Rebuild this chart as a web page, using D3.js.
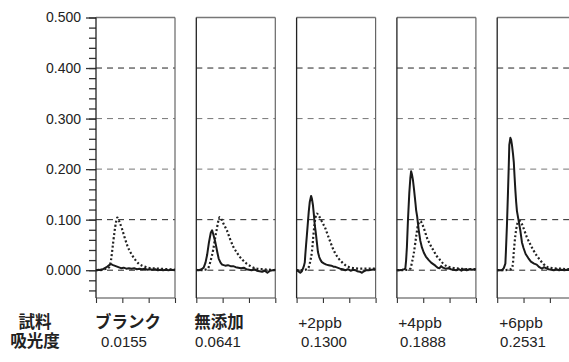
<!DOCTYPE html>
<html>
<head>
<meta charset="utf-8">
<script src="https://cdn.jsdelivr.net/npm/d3@7"></script>
<style>
  html, body { margin: 0; padding: 0; background: #fff; }
  svg { display: block; }
  text { font-family: "Liberation Sans", Arial, sans-serif; fill: #222; }
  .cjk { font-family: "Liberation Sans", "Noto Sans CJK JP", sans-serif; font-weight: bold; }
</style>
</head>
<body>
<svg id="chart" width="569" height="362"></svg>
<script>
// Sample names and measured absorbance for each panel
const sampleNames = ["ブランク", "無添加", "+2ppb", "+4ppb", "+6ppb"];
const absorbance = [0.0155, 0.0641, 0.1300, 0.1888, 0.2531];
const rowHeaders = ["試料", "吸光度"];

// Y axis tick values
const yMajorTicks = [0, 0.1, 0.2, 0.3, 0.4, 0.5];
const gridLines = [0, 0.1, 0.2, 0.3, 0.4];
const xTicks = [0, 1, 2, 3];

// Signal traces, [time, absorbance]; solid = sample, dotted = background
const sampleBlank = [[0,0.000],[0.1,0.001],[0.2,0.000],[0.3,0.003],[0.4,0.006],[0.5,0.010],[0.57,0.012],[0.65,0.010],[0.75,0.008],[0.85,0.006],[0.95,0.004],[1.05,0.005],[1.15,0.003],[1.25,0.004],[1.35,0.003],[1.45,0.004],[1.55,0.002],[1.65,0.003],[1.75,0.002],[1.85,0.003],[1.95,0.001],[2.05,0.002],[2.15,0.001],[2.25,0.002],[2.35,0.000],[2.45,0.001],[2.55,0.000],[2.65,0.001],[2.75,0.000],[2.85,0.001],[3.0,0.000]];
const backgroundBlank = [[0,0.000],[0.2,0.001],[0.4,0.003],[0.5,0.006],[0.57,0.02],[0.63,0.045],[0.7,0.075],[0.76,0.095],[0.81,0.104],[0.88,0.097],[0.98,0.083],[1.08,0.066],[1.18,0.05],[1.28,0.038],[1.37,0.03],[1.5,0.02],[1.62,0.013],[1.75,0.009],[1.88,0.0065],[2.1,0.004],[2.4,0.003],[2.7,0.002],[3.0,0.001]];

const sampleNone = [[0,0.001],[0.1,0.000],[0.2,0.002],[0.28,0.005],[0.35,0.015],[0.41,0.03],[0.48,0.055],[0.55,0.074],[0.6,0.079],[0.65,0.07],[0.72,0.056],[0.8,0.035],[0.85,0.023],[0.92,0.015],[0.98,0.011],[1.1,0.009],[1.2,0.01],[1.3,0.008],[1.4,0.008],[1.5,0.006],[1.6,0.005],[1.7,0.004],[1.8,0.005],[1.9,0.002],[2.0,0.001],[2.1,0.000],[2.2,0.002],[2.3,-0.001],[2.4,-0.002],[2.5,-0.003],[2.6,-0.001],[2.7,-0.005],[2.8,-0.001],[2.9,0.000],[3.0,0.001]];
const backgroundNone = [[0,0.000],[0.2,0.000],[0.4,0.002],[0.47,0.006],[0.55,0.02],[0.64,0.04],[0.72,0.065],[0.77,0.079],[0.83,0.096],[0.89,0.105],[0.95,0.101],[1.05,0.09],[1.16,0.079],[1.28,0.062],[1.41,0.046],[1.54,0.035],[1.66,0.026],[1.78,0.019],[1.91,0.013],[2.1,0.007],[2.29,0.003],[2.5,0.002],[2.75,0.001],[3.0,0.000]];

const sample2ppb = [[0,0.000],[0.06,-0.002],[0.14,-0.005],[0.2,-0.002],[0.27,0.007],[0.31,0.015],[0.33,0.03],[0.36,0.05],[0.39,0.069],[0.43,0.095],[0.46,0.115],[0.5,0.135],[0.55,0.147],[0.58,0.142],[0.62,0.129],[0.66,0.108],[0.69,0.089],[0.72,0.078],[0.74,0.069],[0.78,0.05],[0.81,0.036],[0.86,0.026],[0.91,0.02],[0.96,0.016],[1.05,0.013],[1.13,0.011],[1.22,0.010],[1.32,0.009],[1.4,0.007],[1.47,0.0066],[1.55,0.005],[1.65,0.003],[1.75,0.002],[1.85,0.000],[1.95,0.002],[2.05,-0.001],[2.15,0.001],[2.23,0.000],[2.3,-0.002],[2.4,-0.003],[2.48,-0.005],[2.56,-0.002],[2.65,0.000],[2.73,0.000],[2.85,0.001],[3.0,0.002]];
const background2ppb = [[0,0.000],[0.2,0.000],[0.4,0.002],[0.46,0.006],[0.52,0.018],[0.58,0.036],[0.65,0.076],[0.71,0.102],[0.77,0.112],[0.85,0.107],[0.97,0.095],[1.09,0.083],[1.18,0.07],[1.28,0.056],[1.37,0.044],[1.47,0.033],[1.6,0.023],[1.72,0.016],[1.85,0.01],[1.98,0.0065],[2.2,0.004],[2.5,0.003],[2.75,0.003],[3.0,0.003]];

const sample4ppb = [[0,0.000],[0.1,0.000],[0.2,0.001],[0.28,0.002],[0.32,0.003],[0.35,0.02],[0.38,0.046],[0.42,0.099],[0.47,0.152],[0.51,0.182],[0.54,0.196],[0.57,0.19],[0.61,0.178],[0.65,0.16],[0.68,0.145],[0.71,0.13],[0.73,0.119],[0.77,0.106],[0.8,0.092],[0.83,0.079],[0.89,0.058],[0.95,0.045],[1.02,0.035],[1.1,0.027],[1.21,0.02],[1.3,0.015],[1.38,0.012],[1.46,0.009],[1.55,0.005],[1.62,0.004],[1.68,0.008],[1.75,0.005],[1.85,0.003],[1.95,0.004],[2.05,0.002],[2.15,0.001],[2.25,0.000],[2.35,0.002],[2.45,-0.001],[2.55,0.002],[2.65,0.000],[2.75,0.002],[2.85,0.001],[3.0,0.002]];
const background4ppb = [[0,0.000],[0.2,0.000],[0.4,0.001],[0.51,0.003],[0.57,0.015],[0.64,0.033],[0.73,0.066],[0.8,0.089],[0.89,0.097],[0.97,0.09],[1.05,0.079],[1.13,0.066],[1.25,0.052],[1.38,0.04],[1.5,0.029],[1.64,0.02],[1.76,0.013],[1.89,0.008],[2.1,0.005],[2.4,0.003],[2.7,0.002],[3.0,0.002]];

const sample6ppb = [[0,0.000],[0.1,0.000],[0.18,0.000],[0.25,0.004],[0.31,0.013],[0.33,0.036],[0.37,0.089],[0.41,0.155],[0.44,0.208],[0.46,0.248],[0.5,0.262],[0.53,0.258],[0.56,0.248],[0.6,0.23],[0.63,0.214],[0.66,0.185],[0.69,0.158],[0.72,0.135],[0.75,0.117],[0.82,0.096],[0.88,0.078],[0.94,0.055],[1.0,0.044],[1.08,0.032],[1.18,0.024],[1.28,0.017],[1.4,0.013],[1.5,0.011],[1.6,0.006],[1.7,0.003],[1.77,0.006],[1.85,0.004],[1.95,0.002],[2.05,0.001],[2.15,0.000],[2.25,0.002],[2.35,0.000],[2.45,0.001],[2.55,0.000],[2.65,0.001],[2.75,0.000],[3.0,0.001]];
const background6ppb = [[0,0.000],[0.2,0.000],[0.45,0.001],[0.56,0.004],[0.6,0.015],[0.63,0.036],[0.69,0.069],[0.75,0.089],[0.82,0.097],[0.87,0.097],[0.95,0.09],[1.03,0.079],[1.12,0.066],[1.25,0.052],[1.37,0.04],[1.5,0.029],[1.63,0.02],[1.76,0.012],[1.88,0.0066],[2.1,0.004],[2.4,0.003],[2.73,0.002],[3.0,0.002]];

const sampleTraces = [sampleBlank, sampleNone, sample2ppb, sample4ppb, sample6ppb];
const backgroundTraces = [backgroundBlank, backgroundNone, background2ppb, background4ppb, background6ppb];

// Layout
const svg = d3.select("#chart");
const plotTop = 17.5, plotBottom = 298;
const panelWidth = 79;
const panelLeft = d3.scaleLinear().domain([0, 1]).range([96, 196.3]);

const y = d3.scaleLinear().domain([-0.055, 0.5]).range([plotBottom, plotTop]);

// Y axis with major and minor ticks on the first panel
const minorTicks = d3.range(-0.04, 0.5001, 0.02);
svg.append("g")
  .attr("transform", `translate(${panelLeft(0)},0)`)
  .call(d3.axisLeft(y).tickValues(minorTicks).tickSize(7).tickFormat(""))
  .call(g => g.select(".domain").remove())
  .call(g => g.selectAll("line").attr("stroke", "#333").attr("stroke-width", 1.3));

svg.append("g")
  .attr("transform", `translate(${panelLeft(0)},0)`)
  .call(d3.axisLeft(y).tickValues(yMajorTicks).tickSize(10).tickPadding(5).tickFormat(d3.format(".3f")))
  .call(g => g.select(".domain").remove())
  .call(g => g.selectAll("line").attr("stroke", "#333").attr("stroke-width", 1.3))
  .call(g => g.selectAll("text").attr("font-size", 14).attr("fill", "#222")
    .attr("font-family", "'Liberation Sans', Arial, sans-serif"));

sampleNames.forEach((name, i) => {
  const x0 = panelLeft(i);
  const x = d3.scaleLinear().domain([0, 3]).range([x0, x0 + panelWidth]);
  const g = svg.append("g");

  // dashed reference grid
  g.selectAll("line.grid").data(gridLines).join("line")
    .attr("class", "grid")
    .attr("x1", x(0)).attr("x2", x(3))
    .attr("y1", d => y(d)).attr("y2", d => y(d))
    .attr("stroke", d => (d === 0.2 || d === 0.3) ? "#777" : "#222")
    .attr("stroke-width", 1)
    .attr("stroke-dasharray", "6,5");

  // bottom axis ticks
  g.append("g")
    .attr("transform", `translate(0,${plotBottom})`)
    .call(d3.axisBottom(x).tickValues(xTicks).tickSize(5).tickFormat(""))
    .call(a => a.select(".domain").remove())
    .call(a => a.selectAll("line").attr("stroke", "#333").attr("stroke-width", 1.1));

  // panel frame
  g.append("line").attr("x1", x(0)).attr("x2", x(3)).attr("y1", plotTop).attr("y2", plotTop)
    .attr("stroke", "#777").attr("stroke-width", 1.4);
  g.append("line").attr("x1", x(3)).attr("x2", x(3)).attr("y1", plotTop).attr("y2", plotBottom)
    .attr("stroke", "#666").attr("stroke-width", 1.2);
  g.append("line").attr("x1", x(0)).attr("x2", x(3)).attr("y1", plotBottom).attr("y2", plotBottom)
    .attr("stroke", "#444").attr("stroke-width", 1.2);
  g.append("line").attr("x1", x(0)).attr("x2", x(0)).attr("y1", plotTop).attr("y2", plotBottom)
    .attr("stroke", "#222").attr("stroke-width", 1.3);

  const line = d3.line().x(d => x(d[0])).y(d => y(d[1]));

  // background trace (dotted)
  g.append("path").datum(backgroundTraces[i])
    .attr("d", d3.line().curve(d3.curveMonotoneX).x(d => x(d[0])).y(d => y(d[1])))
    .attr("fill", "none").attr("stroke", "#222").attr("stroke-width", 2.2)
    .attr("stroke-dasharray", "2,2.2");

  // sample trace (solid)
  g.append("path").datum(sampleTraces[i])
    .attr("d", line)
    .attr("fill", "none").attr("stroke", "#1a1a1a").attr("stroke-width", 2)
    .attr("stroke-linejoin", "round");
});

// Table beneath the panels
const labelCenters = [128, 219, 320, 420, 521];
const valueCenters = [124, 218, 324, 423, 523];
const row1 = 328, row2 = 347;

svg.append("text").attr("class", "cjk").attr("x", 35).attr("y", row1)
  .attr("text-anchor", "middle").attr("font-size", 16.5).text(rowHeaders[0]);
svg.append("text").attr("class", "cjk").attr("x", 35).attr("y", row2)
  .attr("text-anchor", "middle").attr("font-size", 16.5).text(rowHeaders[1]);

svg.selectAll("text.name").data(sampleNames).join("text")
  .attr("class", (d, i) => i < 2 ? "name cjk" : "name")
  .attr("x", (d, i) => labelCenters[i]).attr("y", row1)
  .attr("text-anchor", "middle")
  .attr("font-size", (d, i) => i < 2 ? 16.5 : 15.5)
  .text(d => d);

svg.selectAll("text.value").data(absorbance).join("text")
  .attr("class", "value")
  .attr("x", (d, i) => valueCenters[i]).attr("y", row2)
  .attr("text-anchor", "middle").attr("font-size", 15)
  .text(d => d.toFixed(4));
</script>
</body>
</html>
